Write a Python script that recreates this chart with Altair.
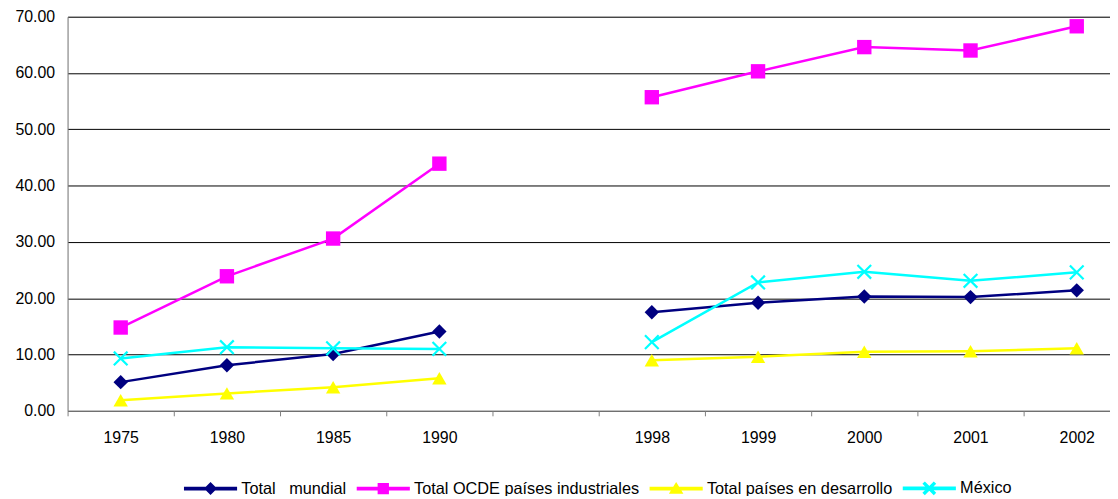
import altair as alt
import pandas as pd

years = ["1975", "1980", "1985", "1990", " ", "1998", "1999", "2000", "2001", "2002"]
series = [
    "Total\u00a0\u00a0\u00a0mundial",
    "Total OCDE países industriales",
    "Total países en desarrollo",
    "México",
]
colors = ["#000080", "#FF00FF", "#FFFF00", "#00FFFF"]
marker_shapes = ["diamond", "square", "triangle-up", "M-1,-1L1,1M-1,1L1,-1"]

mundial = [5.1, 8.1, 10.1, 14.1, None, 17.5, 19.2, 20.3, 20.2, 21.4]
ocde = [14.8, 23.9, 30.6, 43.9, None, 55.7, 60.3, 64.6, 64.0, 68.3]
desarrollo = [1.9, 3.1, 4.2, 5.8, None, 9.0, 9.6, 10.5, 10.6, 11.1]
mexico = [9.3, 11.3, 11.1, 11.0, None, 12.2, 22.8, 24.7, 23.1, 24.6]

# legend glyphs: line segment with the marker in the middle (filled paths)
legend_paths = [
    "M-1,-0.045L1,-0.045L1,0.045L-1,0.045Z M-0.21,0L0,-0.21L0.21,0L0,0.21Z",
    "M-1,-0.045L1,-0.045L1,0.045L-1,0.045Z M-0.19,-0.19L0.19,-0.19L0.19,0.19L-0.19,0.19Z",
    "M-1,-0.045L1,-0.045L1,0.045L-1,0.045Z M0,-0.2L0.23,0.17L-0.23,0.17Z",
    "M-1,-0.045L1,-0.045L1,0.045L-1,0.045Z "
    "M-0.173,-0.227L0.227,0.173L0.173,0.227L-0.227,-0.173Z "
    "M-0.227,0.173L0.173,-0.227L0.227,-0.173L-0.173,0.227Z",
]

rows = []
for name, vals in zip(series, [mundial, ocde, desarrollo, mexico]):
    for i, (yr, v) in enumerate(zip(years, vals)):
        if v is None:
            continue
        rows.append({"year": yr, "value": v, "series": name, "segment": "a" if i < 4 else "b"})
df = pd.DataFrame(rows)

FONT = "Liberation Sans"

x_enc = alt.X(
    "year:N",
    sort=years,
    bandPosition=0.5,
    scale=alt.Scale(domain=years, range=[0, 1070], paddingInner=0, paddingOuter=0),
    axis=alt.Axis(
        title=None,
        labelAngle=0,
        tickBand="extent",
        tickSize=5,
        tickColor="#808080",
        domainColor="#808080",
        labelPadding=14,
        labelFont=FONT,
        labelFontSize=16,
        labelColor="#000000",
        grid=False,
    ),
)
y_enc = alt.Y(
    "value:Q",
    scale=alt.Scale(domain=[0, 70], nice=False),
    axis=alt.Axis(
        title=None,
        values=[0, 10, 20, 30, 40, 50, 60, 70],
        format=".2f",
        ticks=False,
        labelPadding=13,
        labelFont=FONT,
        labelFontSize=16,
        labelColor="#000000",
        domainColor="#808080",
        gridColor="#000000",
        gridWidth=1,
    ),
)
cscale = alt.Scale(domain=series, range=colors)

base = alt.Chart(df)

leg = alt.Legend(
    title=None,
    orient="none",
    legendX=117,
    legendY=448,
    direction="horizontal",
    columns=4,
    labelFont=FONT,
    labelFontSize=16.4,
    labelColor="#000000",
    labelOffset=4,
    columnPadding=8,
    symbolSize=2704,
    symbolOpacity=1,
    labelLimit=1000,
)
# carries only the legend (no data rows are drawn)
legend_layer = base.mark_point(filled=True, opacity=1, size=2704).transform_filter("false").encode(
    x=x_enc,
    y=y_enc,
    color=alt.Color("series:N", scale=cscale, legend=leg),
    shape=alt.Shape("series:N", scale=alt.Scale(domain=series, range=legend_paths), legend=leg),
)

lines = base.mark_line(strokeWidth=2.5).encode(
    x=x_enc,
    y=y_enc,
    color=alt.Color("series:N", scale=cscale, legend=None),
    detail="segment:N",
)

point_layers = []
for name, col, shp in zip(series, colors, marker_shapes):
    if shp.startswith("M"):
        mk = base.mark_point(shape=shp, filled=False, color=col, stroke=col, strokeWidth=2.2, size=190, opacity=1)
    else:
        mk = base.mark_point(shape=shp, filled=True, color=col, size=210, opacity=1)
    point_layers.append(
        mk.transform_filter(alt.datum.series == name).encode(x=x_enc, y=y_enc)
    )

chart = (
    alt.layer(legend_layer, lines, *point_layers)
    .properties(
        width=1050,
        height=397,
        autosize=alt.AutoSizeParams(type="none"),
        padding={"left": 60, "top": 7, "right": 0, "bottom": 84},
    )
    .configure_view(fill="#C0C0C0", stroke="#808080", strokeWidth=1)
    .configure(font=FONT)
)

chart.save("out.html", embed_options={"renderer": "svg", "actions": False})
